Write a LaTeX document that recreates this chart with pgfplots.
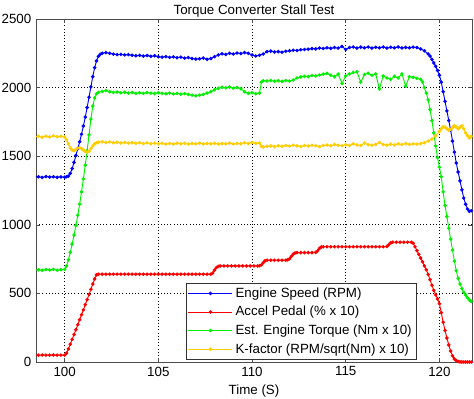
\documentclass[border=0pt]{standalone}
\usepackage{fontspec}
\setmainfont{Liberation Sans}
\usepackage{pgfplots}
\pgfplotsset{compat=1.18}
\definecolor{kyel}{RGB}{255,205,0}
\definecolor{mblue}{RGB}{0,0,255}
\definecolor{mred}{RGB}{255,0,0}
\definecolor{mgreen}{RGB}{0,240,0}
\begin{document}
\begin{tikzpicture}
\begin{axis}[
  at={(0,0)}, anchor=south west,
  scale only axis, width=327pt, height=257.25pt,
  xmin=98.47, xmax=121.74, ymin=0, ymax=2500,
  xtick={100,105,110,115,120}, ytick={0,500,1000,1500,2000,2500},
  grid=major, major grid style={black, dotted, line width=0.5pt},
  tick align=inside, major tick length=3pt,
  axis line style={black!70, line width=0.6pt},
  every tick/.style={black!70},
  font=\fontsize{10}{12}\selectfont,
  tick label style={font=\fontsize{10}{12}\selectfont},
  /pgf/number format/assume math mode=true,
  /pgf/number format/1000 sep={},
  title={Torque Converter Stall Test},
  every axis title/.style={at={(axis description cs:0.5,1)}, anchor=base, yshift=3.2pt, font=\fontsize{10}{12}\selectfont},
  xlabel={Time (S)},
  xlabel style={at={(axis description cs:0.5,0)}, anchor=base, yshift=-24.5pt, font=\fontsize{10}{12}\selectfont},
  legend style={at={(axis description cs:0.873,0.006)}, anchor=south east, draw=black!80, fill=white, font=\fontsize{10}{12}\selectfont, inner sep=1.5pt, row sep=1.2pt},
  legend cell align=left,
  legend image code/.code={\draw[mark repeat=2,mark phase=2,#1] plot coordinates {(0pt,0pt) (16.5pt,0pt) (33pt,0pt)};},
  every axis plot/.append style={line width=0.7pt, mark=*, mark size=0.95pt},
]
\addplot[color=mblue, mark options={fill=mblue}] coordinates {
(98.4,1348) (98.6,1350) (98.8,1345) (99.0,1352) (99.2,1348) (99.4,1350) (99.6,1346) (99.8,1349) (100.0,1347) (100.1,1350) (100.2,1355) (100.3,1375) (100.4,1410) (100.5,1455) (100.6,1505) (100.7,1555) (100.8,1605) (100.9,1660) (101.0,1720) (101.1,1785) (101.2,1855) (101.3,1930) (101.4,2005) (101.5,2080) (101.6,2145) (101.7,2195) (101.8,2228) (101.9,2243) (102.0,2250) (102.2,2255) (102.4,2250) (102.6,2244) (102.8,2240) (103.0,2242) (103.2,2238) (103.4,2240) (103.6,2236) (103.8,2232) (104.0,2235) (104.2,2230) (104.4,2234) (104.6,2228) (104.8,2232) (105.0,2225) (105.2,2222) (105.4,2226) (105.6,2220) (105.8,2224) (106.0,2218) (106.2,2222) (106.4,2215) (106.6,2219) (106.8,2212) (107.0,2208) (107.2,2210) (107.4,2215) (107.6,2206) (107.8,2212) (108.0,2225) (108.2,2238) (108.4,2246) (108.6,2242) (108.8,2250) (109.0,2245) (109.2,2252) (109.4,2248) (109.6,2255) (109.8,2250) (110.0,2238) (110.2,2230) (110.4,2236) (110.6,2245) (110.8,2262) (111.0,2266) (111.2,2260) (111.4,2262) (111.6,2258) (111.8,2265) (112.0,2268) (112.2,2272) (112.4,2270) (112.6,2276) (112.8,2278) (113.0,2280) (113.2,2284) (113.4,2282) (113.6,2288) (113.8,2285) (114.0,2290) (114.2,2286) (114.4,2292) (114.6,2288) (114.8,2300) (115.0,2278) (115.2,2292) (115.4,2296) (115.6,2288) (115.8,2295) (116.0,2290) (116.2,2296) (116.4,2288) (116.6,2294) (116.8,2290) (117.0,2296) (117.2,2288) (117.4,2294) (117.6,2290) (117.8,2296) (118.0,2289) (118.2,2293) (118.4,2290) (118.6,2295) (118.8,2292) (119.0,2282) (119.2,2268) (119.4,2245) (119.5,2230) (119.6,2205) (119.7,2180) (119.8,2155) (119.9,2125) (120.0,2090) (120.1,2040) (120.2,1970) (120.3,1900) (120.4,1830) (120.5,1760) (120.6,1690) (120.7,1610) (120.8,1530) (120.9,1450) (121.0,1385) (121.1,1320) (121.2,1255) (121.3,1195) (121.4,1150) (121.5,1115) (121.6,1098) (121.7,1102) (121.8,1100)
};
\addlegendentry{Engine Speed (RPM)}
\addplot[color=mred, mark options={fill=mred}] coordinates {
(98.4,50) (98.6,50) (98.8,51) (99.0,50) (99.2,50) (99.4,51) (99.6,50) (99.8,50) (100.0,50) (100.1,65) (100.2,95) (100.3,130) (100.4,165) (100.5,200) (100.6,235) (100.7,272) (100.8,308) (100.9,345) (101.0,380) (101.1,418) (101.2,455) (101.3,492) (101.4,530) (101.5,568) (101.6,605) (101.7,635) (101.8,640) (102.0,640) (102.2,640) (102.4,640) (102.6,640) (102.8,640) (103.0,640) (103.2,640) (103.4,640) (103.6,640) (103.8,640) (104.0,640) (104.2,640) (104.4,640) (104.6,640) (104.8,640) (105.0,640) (105.2,640) (105.4,640) (105.6,640) (105.8,640) (106.0,640) (106.2,640) (106.4,640) (106.6,640) (106.8,640) (107.0,640) (107.2,640) (107.4,640) (107.6,640) (107.8,640) (107.9,648) (108.0,670) (108.1,688) (108.2,697) (108.3,700) (108.5,700) (108.7,700) (108.9,700) (109.1,700) (109.3,700) (109.5,700) (109.7,700) (109.9,700) (110.1,700) (110.3,700) (110.4,702) (110.5,708) (110.6,724) (110.7,738) (110.8,742) (111.0,742) (111.2,742) (111.4,742) (111.6,742) (111.8,742) (111.9,745) (112.0,752) (112.1,770) (112.2,786) (112.3,795) (112.4,797) (112.6,797) (112.8,797) (113.0,797) (113.2,797) (113.4,799) (113.5,810) (113.6,828) (113.7,838) (113.8,840) (114.0,840) (114.2,840) (114.4,840) (114.6,840) (114.8,840) (115.0,840) (115.2,840) (115.4,840) (115.6,840) (115.8,840) (116.0,840) (116.2,840) (116.4,840) (116.6,840) (116.8,840) (117.0,840) (117.2,842) (117.3,855) (117.4,868) (117.5,873) (117.7,873) (117.9,873) (118.1,873) (118.3,873) (118.5,873) (118.6,866) (118.7,840) (118.8,812) (118.9,785) (119.0,758) (119.1,730) (119.2,700) (119.3,672) (119.4,638) (119.5,600) (119.6,560) (119.7,522) (119.8,490) (119.9,460) (120.0,425) (120.1,360) (120.2,290) (120.3,230) (120.4,175) (120.5,125) (120.6,80) (120.7,45) (120.8,22) (120.9,10) (121.0,4) (121.1,1) (121.2,0) (121.3,0) (121.4,0) (121.5,0) (121.6,0) (121.7,0) (121.8,0)
};
\addlegendentry{Accel Pedal (\% x 10)}
\addplot[color=mgreen, mark options={fill=mgreen}] coordinates {
(98.4,670) (98.6,672) (98.8,668) (99.0,674) (99.2,671) (99.4,675) (99.6,669) (99.8,673) (100.0,675) (100.1,700) (100.2,745) (100.3,800) (100.4,860) (100.5,925) (100.6,995) (100.7,1070) (100.8,1150) (100.9,1240) (101.0,1335) (101.1,1435) (101.2,1540) (101.3,1655) (101.4,1770) (101.5,1865) (101.6,1925) (101.7,1955) (101.8,1965) (102.0,1972) (102.2,1978) (102.4,1970) (102.6,1965) (102.8,1968) (103.0,1962) (103.2,1966) (103.4,1960) (103.6,1964) (103.8,1958) (104.0,1962) (104.2,1958) (104.4,1964) (104.6,1960) (104.8,1957) (105.0,1962) (105.2,1958) (105.4,1955) (105.6,1960) (105.8,1954) (106.0,1958) (106.2,1952) (106.4,1956) (106.6,1950) (106.8,1945) (107.0,1940) (107.2,1945) (107.4,1950) (107.6,1960) (107.8,1970) (108.0,1985) (108.2,1995) (108.4,2002) (108.6,1998) (108.8,2004) (109.0,1996) (109.2,2000) (109.4,1992) (109.6,1970) (109.8,1958) (110.0,1962) (110.2,1955) (110.4,1960) (110.5,2040) (110.6,2050) (110.8,2048) (111.0,2052) (111.2,2046) (111.4,2050) (111.6,2045) (111.8,2052) (112.0,2048) (112.2,2055) (112.4,2070) (112.6,2078) (112.8,2082) (113.0,2080) (113.2,2088) (113.4,2085) (113.6,2092) (113.8,2098) (114.0,2104) (114.2,2090) (114.4,2080) (114.6,2098) (114.8,2030) (115.0,2085) (115.2,2100) (115.4,2110) (115.6,2115) (115.8,2040) (116.0,2095) (116.2,2105) (116.4,2090) (116.6,2100) (116.8,1990) (117.0,2085) (117.2,2070) (117.4,2060) (117.6,2082) (117.8,2070) (118.0,2100) (118.2,2010) (118.4,2080) (118.6,2075) (118.8,2068) (119.0,2060) (119.1,2040) (119.2,2000) (119.3,1960) (119.4,1910) (119.5,1840) (119.6,1760) (119.7,1670) (119.8,1575) (119.9,1490) (120.0,1420) (120.1,1350) (120.2,1240) (120.3,1140) (120.4,1060) (120.5,975) (120.6,895) (120.7,815) (120.8,735) (120.9,665) (121.0,610) (121.1,568) (121.2,535) (121.3,508) (121.4,488) (121.5,468) (121.6,452) (121.7,442) (121.8,440)
};
\addlegendentry{Est. Engine Torque (Nm x 10)}
\addplot[color=kyel, mark options={fill=kyel}] coordinates {
(98.4,1640) (98.6,1645) (98.8,1638) (99.0,1646) (99.2,1640) (99.4,1648) (99.6,1642) (99.8,1645) (100.0,1640) (100.1,1620) (100.2,1590) (100.3,1560) (100.4,1545) (100.5,1540) (100.6,1550) (100.7,1560) (100.8,1562) (100.9,1555) (101.0,1545) (101.1,1535) (101.2,1530) (101.3,1535) (101.4,1555) (101.5,1575) (101.6,1590) (101.7,1598) (101.8,1602) (102.0,1605) (102.2,1600) (102.4,1604) (102.6,1598) (102.8,1602) (103.0,1596) (103.2,1600) (103.4,1595) (103.6,1599) (103.8,1594) (104.0,1598) (104.2,1592) (104.4,1597) (104.6,1591) (104.8,1595) (105.0,1590) (105.2,1594) (105.4,1588) (105.6,1593) (105.8,1589) (106.0,1595) (106.2,1590) (106.4,1594) (106.6,1588) (106.8,1592) (107.0,1590) (107.2,1595) (107.4,1589) (107.6,1593) (107.8,1590) (108.0,1594) (108.2,1588) (108.4,1592) (108.6,1590) (108.8,1595) (109.0,1589) (109.2,1593) (109.4,1590) (109.6,1598) (109.8,1592) (110.0,1600) (110.2,1594) (110.4,1596) (110.5,1572) (110.6,1568) (110.8,1572) (111.0,1575) (111.2,1570) (111.4,1576) (111.6,1572) (111.8,1578) (112.0,1574) (112.2,1580) (112.4,1575) (112.6,1571) (112.8,1578) (113.0,1574) (113.2,1580) (113.4,1576) (113.6,1570) (113.8,1578) (114.0,1582) (114.2,1576) (114.4,1585) (114.6,1580) (114.8,1576) (115.0,1584) (115.2,1578) (115.4,1590) (115.6,1582) (115.8,1578) (116.0,1596) (116.2,1584) (116.4,1580) (116.6,1586) (116.8,1600) (117.0,1585) (117.2,1580) (117.4,1588) (117.6,1582) (117.8,1590) (118.0,1585) (118.2,1592) (118.4,1586) (118.6,1590) (118.8,1588) (119.0,1592) (119.2,1598) (119.4,1610) (119.6,1625) (119.8,1648) (120.0,1680) (120.1,1700) (120.2,1715) (120.3,1712) (120.4,1700) (120.5,1690) (120.6,1695) (120.7,1710) (120.8,1722) (120.9,1712) (121.0,1700) (121.1,1712) (121.2,1722) (121.3,1700) (121.4,1670) (121.5,1650) (121.6,1632) (121.7,1645) (121.8,1650)
};
\addlegendentry{K-factor (RPM/sqrt(Nm) x 10)}
\end{axis}
\pgfresetboundingbox
\path[use as bounding box] (-27pt,-27.75pt) rectangle (328.5pt,271.5pt);
\end{tikzpicture}
\end{document}
